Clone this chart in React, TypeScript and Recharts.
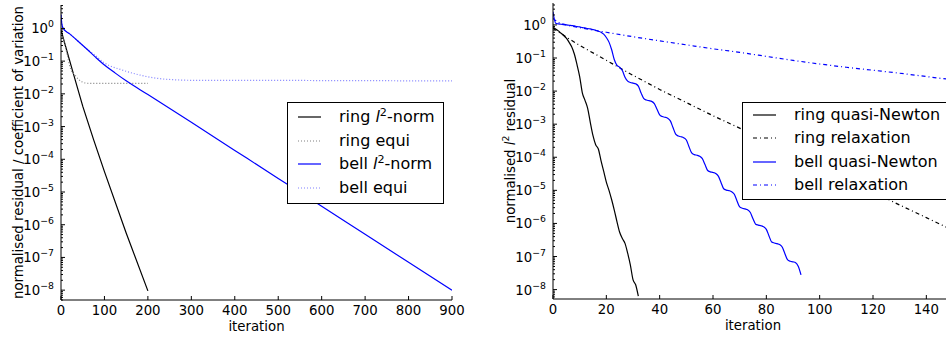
import React from 'react';
import { LineChart, Line, XAxis, YAxis, Legend } from 'recharts';

const FONT = '"DejaVu Sans", Verdana, sans-serif';
const FS = 13.3;
const SUP = 9.3;
const LEG_FS = 16;
const LEG_SUP = 11.2;

// ---- left panel: normalised residual / coefficient of variation
const ringNormIter = [0, 10, 25, 50, 75, 100, 150, 200];
const ringNormVal = [0.89, 0.3, 0.06, 0.0042, 4.0e-4, 4.2e-5, 5.6e-7, 9.5e-9];

const ringEquiIter = [0, 5, 10, 15, 20, 25, 32, 40, 48, 63, 100, 150, 200];
const ringEquiVal = [0.89, 0.52, 0.28, 0.14, 0.072, 0.048, 0.038, 0.028, 0.0234, 0.021, 0.021, 0.021, 0.021];

const bellNormIter = [0, 2, 5, 20, 40, 60, 80, 100, 125, 150, 200, 300, 400, 500, 600, 700, 800, 900];
const bellNormVal = [2.6, 1.35, 1.0, 0.68, 0.4, 0.23, 0.13, 0.076, 0.043, 0.025, 0.0095, 1.35e-3, 1.87e-4, 2.6e-5, 3.7e-6, 5.1e-7, 7.1e-8, 1.0e-8];

const bellEquiIter = [0, 2, 5, 20, 40, 60, 75, 100, 140, 180, 220, 260, 300, 400, 500, 600, 700, 800, 900];
const bellEquiVal = [2.6, 1.35, 1.0, 0.68, 0.4, 0.23, 0.165, 0.088, 0.054, 0.038, 0.03, 0.027, 0.026, 0.026, 0.026, 0.0255, 0.0255, 0.025, 0.025];

const leftXTicks = [0, 100, 200, 300, 400, 500, 600, 700, 800, 900];

// ---- right panel: normalised l2 residual (one value per iteration for quasi-Newton)
const ringQnVal = [
  0.832, 0.759, 0.661, 0.562, 0.479, 0.398, 0.302, 0.219, 0.132, 0.063,
  0.0275, 0.0089, 0.00525, 0.003, 0.00112, 4.5e-4, 2.4e-4, 1.78e-4, 7.9e-5, 3.8e-5,
  1.78e-5, 1.0e-5, 5.2e-6, 2.5e-6, 1.12e-6, 5.4e-7, 3.5e-7, 2.5e-7, 1.26e-7, 5.6e-8,
  2.0e-8, 1.4e-8, 6.3e-9,
];

const ringRelaxIter = [0, 5, 10, 20, 30, 40, 50, 60, 70, 80, 90, 100, 110, 120, 130, 140, 150];
const ringRelaxVal = [0.79, 0.43, 0.24, 0.085, 0.03, 0.0112, 0.0045, 0.0018, 7.6e-4, 3.1e-4, 1.26e-4, 5.2e-5, 2.1e-5, 8.9e-6, 3.6e-6, 1.5e-6, 6.2e-7];

const bellQnVal = [
  2.5, 1.12, 1.07, 1.05, 1.02, 1.0, 0.977, 0.955, 0.933, 0.891,
  0.871, 0.832, 0.813, 0.776, 0.759, 0.724, 0.692, 0.646, 0.603, 0.525,
  0.417, 0.302, 0.178, 0.089, 0.0603, 0.0525, 0.0417, 0.0263, 0.02, 0.0182,
  0.0174, 0.0166, 0.0141, 0.00891, 0.00603, 0.00537, 0.00513, 0.0049, 0.00417, 0.00282,
  0.00191, 0.0017, 0.00162, 0.00151, 0.00126, 7.9e-4, 5.0e-4, 4.37e-4, 4.17e-4, 3.89e-4,
  3.31e-4, 2.09e-4, 1.35e-4, 1.2e-4, 1.15e-4, 1.07e-4, 9.1e-5, 6.0e-5, 3.98e-5, 3.63e-5,
  3.47e-5, 3.24e-5, 2.69e-5, 1.74e-5, 1.12e-5, 1.02e-5, 9.8e-6, 9.1e-6, 7.6e-6, 4.8e-6,
  3.16e-6, 2.88e-6, 2.75e-6, 2.57e-6, 2.14e-6, 1.38e-6, 9.5e-7, 8.9e-7, 8.5e-7, 7.9e-7,
  6.6e-7, 4.2e-7, 2.75e-7, 2.57e-7, 2.45e-7, 2.29e-7, 1.91e-7, 1.2e-7, 7.9e-8, 7.2e-8,
  6.9e-8, 6.5e-8, 5.0e-8, 2.8e-8,
];

const bellRelaxIter = [0, 2, 5, 10, 20, 30, 40, 50, 60, 70, 80, 90, 100, 110, 120, 130, 140, 150];
const bellRelaxVal = [1.58, 1.2, 1.0, 0.83, 0.6, 0.44, 0.33, 0.25, 0.19, 0.148, 0.112, 0.085, 0.066, 0.0525, 0.0427, 0.0347, 0.0275, 0.0219];

const rightXTicks = [0, 20, 40, 60, 80, 100, 120, 140];

const DOT = '1 2';
const DASHDOT = '4 3 1 3';

const pairs = (xs: number[], ys: number[]) => xs.map((x, i) => ({ x, y: ys[i] }));
const indexed = (ys: number[]) => ys.map((y, i) => ({ x: i, y }));

// log axis ticks, majors at powers of ten and minors between them
const logTicks = (lo: number, hi: number) => {
  const t: number[] = [];
  for (let e = -9; e <= 0; e++) {
    for (let m = 1; m <= 9; m++) {
      const v = m * Math.pow(10, e);
      if (v >= lo && v <= hi) t.push(v);
    }
  }
  return t;
};
const isMajor = (v: number) => Math.abs(Math.log10(v) - Math.round(Math.log10(v))) < 1e-6;

const TICK_GAP = 7;

function YTickLeft(props: any) {
  const { x, y, payload } = props;
  const v = payload.value;
  const ax = x + TICK_GAP;
  if (!isMajor(v)) return <line x1={ax} x2={ax + 2} y1={y} y2={y} stroke="#000" />;
  const e = Math.round(Math.log10(v));
  return (
    <g>
      <line x1={ax} x2={ax + 4} y1={y} y2={y} stroke="#000" />
      <text x={x} y={y + 5} textAnchor="end" fontSize={FS} fontFamily={FONT} fill="#000">
        10
        <tspan dy={-6} fontSize={SUP}>{e < 0 ? '\u2212' + Math.abs(e) : String(e)}</tspan>
      </text>
    </g>
  );
}

function YTickRight(props: any) {
  const { x, y, payload } = props;
  const len = isMajor(payload.value) ? 4 : 2;
  return <line x1={x - len} x2={x} y1={y} y2={y} stroke="#000" />;
}

function XTickBottom(props: any) {
  const { x, y, payload } = props;
  return (
    <g>
      <line x1={x} x2={x} y1={y - 4} y2={y} stroke="#000" />
      <text x={x} y={y + 15} textAnchor="middle" fontSize={FS} fontFamily={FONT} fill="#000">
        {payload.value}
      </text>
    </g>
  );
}

function XTickTop(props: any) {
  const { x, y } = props;
  return <line x1={x} x2={x} y1={y} y2={y + 4} stroke="#000" />;
}

function XTitle(props: any) {
  const vb = props.viewBox || {};
  return (
    <text x={vb.x + vb.width / 2} y={vb.y + 31} textAnchor="middle" fontSize={FS} fontFamily={FONT} fill="#000">
      iteration
    </text>
  );
}

function YTitleLeft(props: any) {
  const vb = props.viewBox || {};
  const cx = vb.x + 23;
  const cy = vb.y + vb.height / 2;
  return (
    <text x={cx} y={cy} transform={`rotate(-90, ${cx}, ${cy})`} textAnchor="middle" fontSize={FS} fontFamily={FONT} fill="#000">
      normalised residual / coefficient of variation
    </text>
  );
}

function YTitleRight(props: any) {
  const vb = props.viewBox || {};
  const cx = vb.x + 45;
  const cy = vb.y + vb.height / 2;
  return (
    <text x={cx} y={cy} transform={`rotate(-90, ${cx}, ${cy})`} textAnchor="middle" fontSize={FS} fontFamily={FONT} fill="#000">
      normalised <tspan fontStyle="italic">l</tspan>
      <tspan dy={-6} fontSize={SUP}>2</tspan>
      <tspan dy={6}> residual</tspan>
    </text>
  );
}

const L2 = () => (
  <>
    <i>l</i>
    <span style={{ fontSize: LEG_SUP, position: 'relative', top: -6 }}>2</span>
  </>
);

type Entry = { label: React.ReactNode; color: string; dash?: string };

function LegendBox({ items, rows, width, height }: { items: Entry[]; rows: number[]; width: number; height: number }) {
  return (
    <div
      style={{
        position: 'relative',
        width,
        height,
        boxSizing: 'border-box',
        border: '1px solid #000',
        background: '#fff',
        fontFamily: FONT,
        fontSize: LEG_FS,
        color: '#000',
      }}
    >
      {items.map((it, i) => (
        <div key={i} style={{ position: 'absolute', left: 0, top: rows[i] - 10, height: 18, lineHeight: '18px', whiteSpace: 'nowrap' }}>
          <svg width={26} height={18} style={{ position: 'absolute', left: 10, top: 0 }}>
            <line x1={0} x2={23} y1={9} y2={9} stroke={it.color} strokeWidth={1.2} strokeDasharray={it.dash} />
          </svg>
          <span style={{ position: 'absolute', left: 51, top: 0 }}>{it.label}</span>
        </div>
      ))}
    </div>
  );
}

const leftLegend: Entry[] = [
  { label: <>ring <L2 />-norm</>, color: '#000' },
  { label: 'ring equi', color: '#808080', dash: DOT },
  { label: <>bell <L2 />-norm</>, color: '#0000ff' },
  { label: 'bell equi', color: '#8080ff', dash: DOT },
];

const rightLegend: Entry[] = [
  { label: 'ring quasi-Newton', color: '#000' },
  { label: 'ring relaxation', color: '#000', dash: DASHDOT },
  { label: 'bell quasi-Newton', color: '#0000ff' },
  { label: 'bell relaxation', color: '#0000ff', dash: DASHDOT },
];

function Panel(props: {
  width: number;
  margin: any;
  yWidth: number;
  xHeight: number;
  xDomain: [number, number];
  xTicks: number[];
  yDomain: [number, number];
  yTitle: React.ReactElement;
  legend: React.ReactElement;
  legendPos: { left: number; top: number; width: number; height: number };
  children: React.ReactNode;
}) {
  const yTicks = logTicks(props.yDomain[0], props.yDomain[1]);
  return (
    <LineChart width={props.width} height={337} margin={props.margin}>
      <XAxis
        xAxisId={0}
        type="number"
        dataKey="x"
        domain={props.xDomain}
        ticks={props.xTicks}
        interval={0}
        height={props.xHeight}
        tickSize={0}
        tickMargin={0}
        tickLine={false}
        axisLine={{ stroke: '#000' }}
        tick={(p: any) => <XTickBottom {...p} />}
        allowDataOverflow
        label={<XTitle />}
      />
      <XAxis
        xAxisId="top"
        orientation="top"
        type="number"
        dataKey="x"
        domain={props.xDomain}
        ticks={props.xTicks}
        interval={0}
        height={0}
        tickSize={0}
        tickMargin={0}
        tickLine={false}
        axisLine={{ stroke: '#000' }}
        tick={(p: any) => <XTickTop {...p} />}
        allowDataOverflow
      />
      <YAxis
        yAxisId={0}
        type="number"
        scale="log"
        domain={props.yDomain}
        ticks={yTicks}
        interval={0}
        width={props.yWidth}
        tickSize={0}
        tickMargin={TICK_GAP}
        tickLine={false}
        axisLine={{ stroke: '#000' }}
        tick={(p: any) => <YTickLeft {...p} />}
        allowDataOverflow
        label={props.yTitle}
      />
      <YAxis
        yAxisId="right"
        orientation="right"
        type="number"
        scale="log"
        domain={props.yDomain}
        ticks={yTicks}
        interval={0}
        width={0}
        tickSize={0}
        tickMargin={0}
        tickLine={false}
        axisLine={{ stroke: '#000' }}
        tick={(p: any) => <YTickRight {...p} />}
        allowDataOverflow
      />
      {props.children}
      <Legend
        layout="vertical"
        align="center"
        verticalAlign="middle"
        wrapperStyle={{ ...props.legendPos, right: 'auto', bottom: 'auto' }}
        content={() => props.legend}
      />
    </LineChart>
  );
}

export default function App() {
  return (
    <div style={{ position: 'absolute', left: 0, top: 0, width: 946, height: 337, overflow: 'hidden', background: '#fff' }}>
      <div style={{ position: 'absolute', left: 0, top: 0 }}>
        <Panel
          width={470}
          margin={{ top: 5, right: 18, bottom: 0, left: 0 }}
          yWidth={61}
          xHeight={37}
          xDomain={[0, 900]}
          xTicks={leftXTicks}
          yDomain={[5e-9, 5.2]}
          yTitle={<YTitleLeft />}
          legendPos={{ left: 287, top: 102, width: 157, height: 102 }}
          legend={<LegendBox items={leftLegend} rows={[15, 38.5, 62, 85.5]} width={157} height={102} />}
        >
          <Line data={pairs(ringNormIter, ringNormVal)} dataKey="y" type="linear" stroke="#000" strokeWidth={1.2} dot={false} isAnimationActive={false} />
          <Line data={pairs(ringEquiIter, ringEquiVal)} dataKey="y" type="monotone" stroke="#808080" strokeWidth={1.2} strokeDasharray={DOT} dot={false} isAnimationActive={false} />
          <Line data={pairs(bellEquiIter, bellEquiVal)} dataKey="y" type="monotone" stroke="#8080ff" strokeWidth={1.2} strokeDasharray={DOT} dot={false} isAnimationActive={false} />
          <Line data={pairs(bellNormIter, bellNormVal)} dataKey="y" type="monotone" stroke="#0000ff" strokeWidth={1.2} dot={false} isAnimationActive={false} />
        </Panel>
      </div>
      <div style={{ position: 'absolute', left: 470, top: 0 }}>
        <Panel
          width={500}
          margin={{ top: 3, right: 17, bottom: 0, left: 0 }}
          yWidth={83}
          xHeight={38}
          xDomain={[0, 150]}
          xTicks={rightXTicks}
          yDomain={[5.2e-9, 4.6]}
          yTitle={<YTitleRight />}
          legendPos={{ left: 272, top: 102, width: 212, height: 98 }}
          legend={<LegendBox items={rightLegend} rows={[13, 36.3, 59.7, 83]} width={212} height={98} />}
        >
          <Line data={pairs(ringRelaxIter, ringRelaxVal)} dataKey="y" type="linear" stroke="#000" strokeWidth={1.2} strokeDasharray={DASHDOT} dot={false} isAnimationActive={false} />
          <Line data={pairs(bellRelaxIter, bellRelaxVal)} dataKey="y" type="monotone" stroke="#0000ff" strokeWidth={1.2} strokeDasharray={DASHDOT} dot={false} isAnimationActive={false} />
          <Line data={indexed(ringQnVal)} dataKey="y" type="monotone" stroke="#000" strokeWidth={1.2} dot={false} isAnimationActive={false} />
          <Line data={indexed(bellQnVal)} dataKey="y" type="monotone" stroke="#0000ff" strokeWidth={1.2} dot={false} isAnimationActive={false} />
        </Panel>
      </div>
    </div>
  );
}
